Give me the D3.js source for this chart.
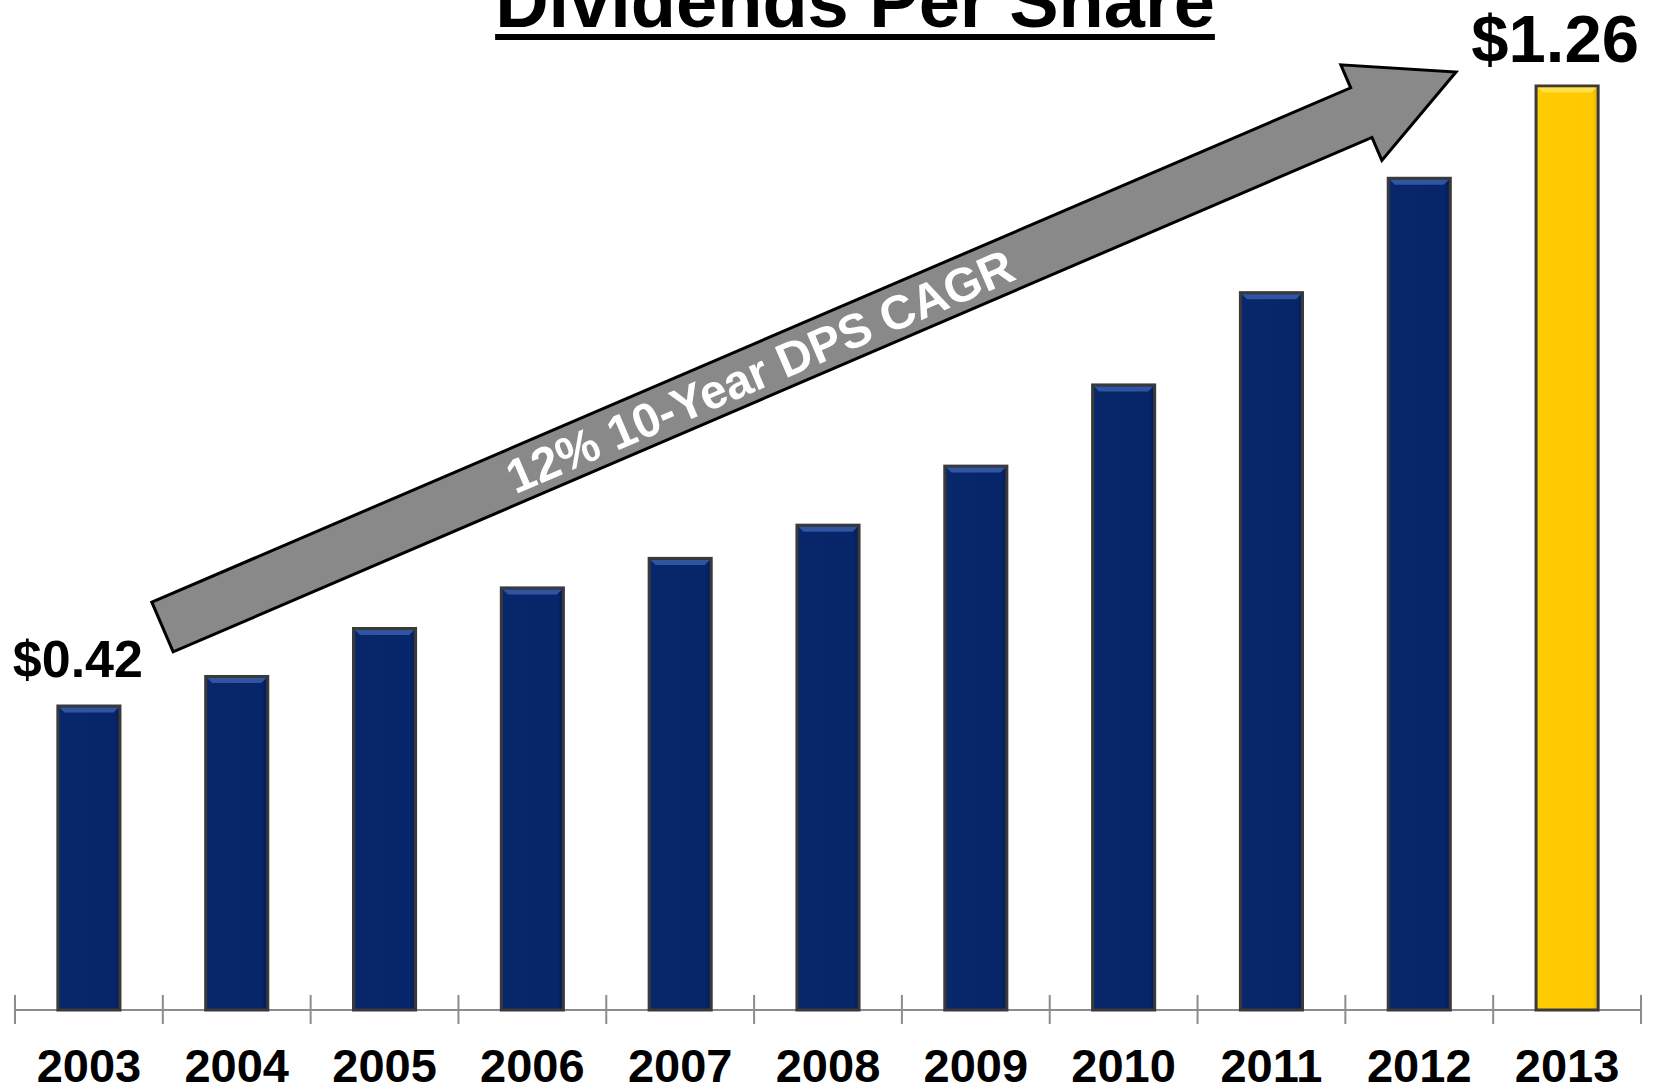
<!DOCTYPE html>
<html>
<head>
<meta charset="utf-8">
<script src="https://cdn.jsdelivr.net/npm/d3@7/dist/d3.min.js"></script>
<style>
  html, body { margin: 0; padding: 0; background: #ffffff; }
  svg { display: block; font-family: "Liberation Sans", Arial, Helvetica, sans-serif; }
</style>
</head>
<body>
<svg id="chart" width="1659" height="1088"></svg>
<script>
// ---- data ----
const years = ["2003","2004","2005","2006","2007","2008","2009","2010","2011","2012","2013"];
const dps = [0.42, 0.46, 0.525, 0.58, 0.62, 0.665, 0.745, 0.855, 0.98, 1.135, 1.26];
const highlightYear = "2013";
const valueLabels = [{ year: "2003", text: "$0.42" }, { year: "2013", text: "$1.26" }];
const titleText = "Dividends Per Share";
const arrowText = "12% 10-Year DPS CAGR";

// ---- layout ----
const W = 1659, H = 1088;
const svg = d3.select("#chart");
const baseY = 1010;

const x = d3.scaleBand().domain(years).range([15, 1641]).paddingInner(0.58).paddingOuter(0.29);
const y = d3.scaleLinear().domain([0, 1.26]).range([1016, 86]);

const defs = svg.append("defs");
function grad(id, stops) {
  const g = defs.append("linearGradient").attr("id", id).attr("x1", 0).attr("x2", 1).attr("y1", 0).attr("y2", 0);
  stops.forEach(s => g.append("stop").attr("offset", s[0]).attr("stop-color", s[1]));
}
grad("gNavy", [[0, "#0a2a6e"], [0.08, "#08276a"], [0.9, "#07256a"], [1, "#061c52"]]);
grad("gGold", [[0, "#ffcf0a"], [0.08, "#ffcc00"], [0.9, "#ffc900"], [1, "#e8b400"]]);

// ---- title ----
const titleG = svg.append("g");
const tt = titleG.append("text")
  .attr("x", 855).attr("y", 27)
  .attr("text-anchor", "middle")
  .attr("font-size", 74).attr("font-weight", "bold").attr("fill", "#000")
  .text(titleText);
const tb = tt.node().getBBox();
titleG.append("rect").attr("x", tb.x).attr("y", 34).attr("width", tb.width).attr("height", 6).attr("fill", "#000");

// ---- axis ----
const axisG = svg.append("g");
axisG.append("line").attr("x1", x.range()[0]).attr("x2", x.range()[1])
  .attr("y1", baseY).attr("y2", baseY).attr("stroke", "#8c8c8c").attr("stroke-width", 2);
const step = x.step();
d3.range(years.length + 1).forEach(i => {
  const xx = x.range()[0] + i * step;
  axisG.append("line").attr("x1", xx).attr("x2", xx).attr("y1", 995).attr("y2", 1024)
    .attr("stroke", "#8c8c8c").attr("stroke-width", 2);
});

// ---- bars ----
const data = years.map((yr, i) => ({ year: yr, v: dps[i] }));
const bars = svg.append("g").selectAll("g.bar").data(data).join("g").attr("class", "bar");
bars.append("rect")
  .attr("x", d => x(d.year)).attr("width", x.bandwidth())
  .attr("y", d => y(d.v)).attr("height", d => baseY - y(d.v))
  .attr("fill", d => d.year === highlightYear ? "url(#gGold)" : "url(#gNavy)")
  .attr("stroke", "#3a3a3a").attr("stroke-width", 3);
// bevel highlight at top
bars.append("path")
  .attr("d", d => {
    const x0 = x(d.year) + 1.5, x1 = x(d.year) + x.bandwidth() - 1.5, y0 = y(d.v) + 1.5;
    return `M${x0},${y0}L${x1},${y0}L${x1 - 5},${y0 + 5}L${x0 + 5},${y0 + 5}Z`;
  })
  .attr("fill", d => d.year === highlightYear ? "#ffe04a" : "#3154a0");

// ---- x labels ----
svg.append("g").selectAll("text").data(years).join("text")
  .attr("x", d => x(d) + x.bandwidth() / 2).attr("y", 1082)
  .attr("text-anchor", "middle").attr("font-size", 47).attr("font-weight", "bold").attr("fill", "#000")
  .text(d => d);

// ---- value labels ----
const vl = {
  "2003": { dx: -11, baseline: 677, size: 52 },
  "2013": { dx: -12, baseline: 62, size: 67 }
};
svg.append("g").selectAll("text").data(valueLabels).join("text")
  .attr("x", d => x(d.year) + x.bandwidth() / 2 + vl[d.year].dx)
  .attr("y", d => vl[d.year].baseline)
  .attr("text-anchor", "middle").attr("font-weight", "bold").attr("fill", "#000")
  .attr("font-size", d => vl[d.year].size)
  .text(d => d.text);

// ---- CAGR arrow ----
const T = [162.5, 627], P = [1456, 72];
const shaftHalf = 27, headLen = 103, headHalf = 52;
const len = Math.hypot(P[0] - T[0], P[1] - T[1]);
const u = [(P[0] - T[0]) / len, (P[1] - T[1]) / len];
const n = [u[1], -u[0]];
const pt = (base, k) => [base[0] + k * n[0], base[1] + k * n[1]];
const B = [P[0] - headLen * u[0], P[1] - headLen * u[1]];
const pts = [pt(T, shaftHalf), pt(B, shaftHalf), pt(B, headHalf), P, pt(B, -headHalf), pt(B, -shaftHalf), pt(T, -shaftHalf)];
svg.append("path")
  .attr("d", "M" + pts.map(p => p.join(",")).join("L") + "Z")
  .attr("fill", "#898989").attr("stroke", "#000").attr("stroke-width", 3).attr("stroke-linejoin", "miter");
const angle = Math.atan2(u[1], u[0]) * 180 / Math.PI;
const tc = [T[0] + 650 * u[0], T[1] + 650 * u[1]];
svg.append("text")
  .attr("transform", `translate(${tc[0]},${tc[1]}) rotate(${angle})`)
  .attr("text-anchor", "middle").attr("dy", "0.36em")
  .attr("font-size", 48).attr("font-weight", "bold").attr("fill", "#fff")
  .text(arrowText);
</script>
</body>
</html>
